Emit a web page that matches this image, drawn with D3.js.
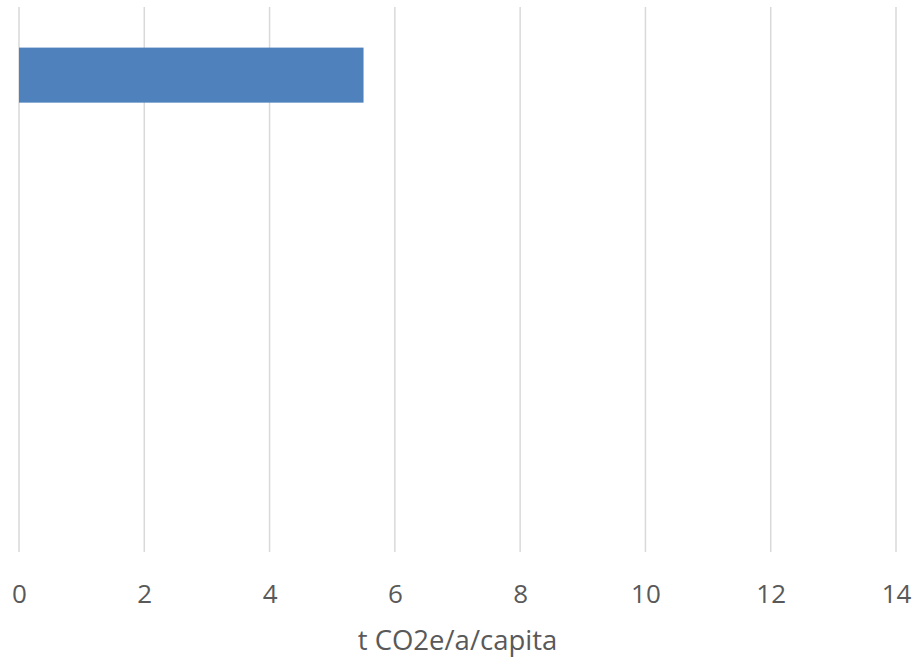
<!DOCTYPE html>
<html>
<head>
<meta charset="utf-8">
<script src="https://cdn.jsdelivr.net/npm/d3@7"></script>
<style>
  html, body { margin: 0; padding: 0; background: #fff; }
  svg { display: block; }
  text { font-family: "Open Sans", "Liberation Sans", sans-serif; fill: #595959; }
</style>
</head>
<body>
<svg id="chart" width="917" height="657"></svg>
<script>
// Categories listed top to bottom; only the first has a reported value
const categories = ["c1", "c2", "c3", "c4"];
const values = [5.5, null, null, null];
const xTicks = [0, 2, 4, 6, 8, 10, 12, 14];
const axisTitle = "t CO2e/a/capita";

const svg = d3.select("#chart");
const plot = { left: 19, right: 896, top: 7, bottom: 552 };

const x = d3.scaleLinear().domain([0, 14]).range([plot.left, plot.right]);
const y = d3.scaleBand()
  .domain(categories)
  .range([plot.top, plot.bottom])
  .paddingInner(0.596)
  .paddingOuter(0.298);

// Vertical gridlines
svg.append("g")
  .selectAll("line")
  .data(xTicks)
  .join("line")
  .attr("x1", d => x(d)).attr("x2", d => x(d))
  .attr("y1", plot.top).attr("y2", plot.bottom)
  .attr("stroke", "#d9d9d9")
  .attr("stroke-width", 1.5);

// Bars
svg.append("g")
  .selectAll("rect")
  .data(categories.map((c, i) => ({ c, v: values[i] })).filter(d => d.v != null))
  .join("rect")
  .attr("x", x(0))
  .attr("y", d => y(d.c))
  .attr("width", d => x(d.v) - x(0))
  .attr("height", y.bandwidth())
  .attr("fill", "#4f81bd");

// X axis tick labels
const xAxis = d3.axisBottom(x).tickValues(xTicks).tickSize(0).tickPadding(0);
const gx = svg.append("g")
  .attr("transform", `translate(0, ${plot.bottom})`)
  .call(xAxis);
gx.select(".domain").remove();
gx.selectAll("text")
  .attr("y", 51)
  .attr("dy", null)
  .style("font-size", "26px")
  .style("font-family", "'Open Sans', 'Liberation Sans', sans-serif")
  .attr("fill", "#595959");

// Axis title
svg.append("text")
  .attr("x", (plot.left + plot.right) / 2)
  .attr("y", 650)
  .attr("text-anchor", "middle")
  .style("font-size", "27.5px")
  .text(axisTitle);
</script>
</body>
</html>
